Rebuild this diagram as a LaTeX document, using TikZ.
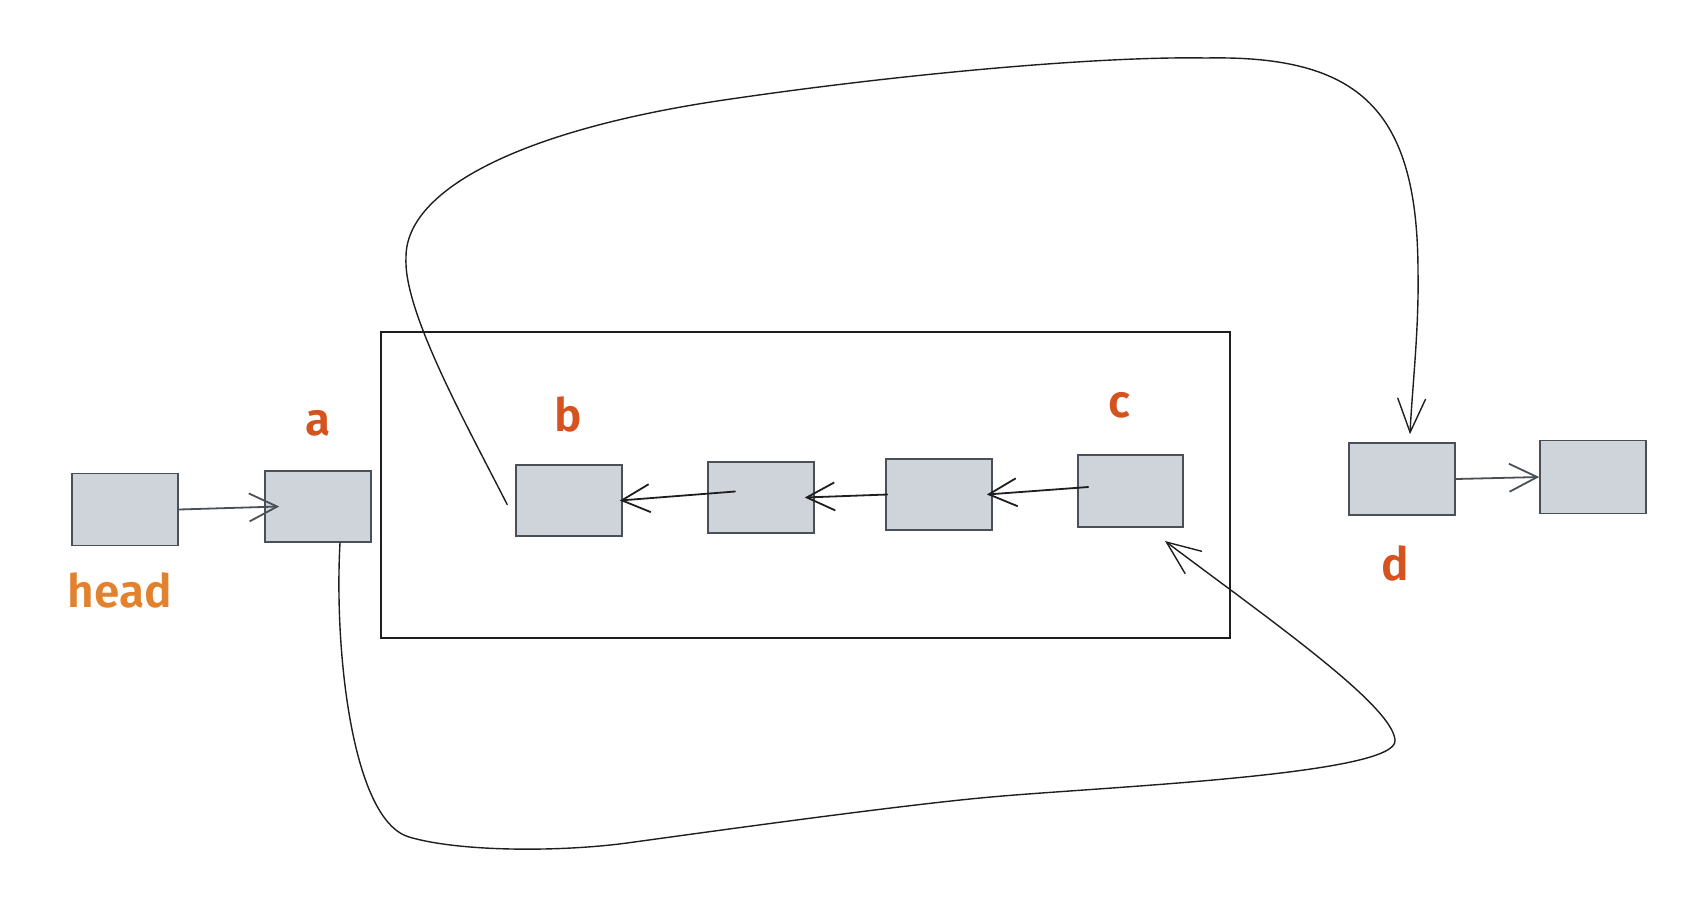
\documentclass[tikz,border=0pt]{standalone}
\usepackage{fontspec}
\setmainfont{Fira Sans}[BoldFont={Fira Sans SemiBold}]
\usetikzlibrary{arrows.meta}
\definecolor{boxfill}{HTML}{CED4DA}
\definecolor{boxline}{HTML}{495057}
\definecolor{ink}{HTML}{1E1E1E}
\definecolor{lbl}{HTML}{D4531F}
\definecolor{headc}{HTML}{E2822E}
\begin{document}
\begin{tikzpicture}[x=1pt,y=-1pt,
  cell/.style={draw=boxline, fill=boxfill, line width=1.6pt, inner sep=0pt},
  lab/.style={text=lbl, font=\fontsize{46}{46}\selectfont\bfseries, inner sep=0pt},
  link/.style={draw=ink, line width=1.8pt, line cap=round, line join=round, -{Straight Barb[length=28pt,width=28pt]}},
  glink/.style={link, draw=boxline},
  bigloop/.style={draw=ink, line width=1.4pt, line cap=round, line join=round, -{Straight Barb[length=34pt,width=28pt]}},
  boxframe/.style={draw=ink, line width=1.5pt, inner sep=0pt}
]
\useasboundingbox (0,0) rectangle (1696,898);

\node[boxframe, minimum width=849pt, minimum height=306pt] (fr) at (805.5,485) {};

\node[cell, minimum width=106pt, minimum height=72pt] (head) at (125,509.5) {};
\node[cell, minimum width=106pt, minimum height=71pt] (a) at (318,506.5) {};
\node[cell, minimum width=106pt, minimum height=71pt] (b) at (569,500.5) {};
\node[cell, minimum width=106pt, minimum height=71pt] (n2) at (761,497.5) {};
\node[cell, minimum width=106pt, minimum height=71pt] (n3) at (939,494.5) {};
\node[cell, minimum width=105pt, minimum height=72pt] (c) at (1130.5,491) {};
\node[cell, minimum width=106pt, minimum height=72pt] (d) at (1402,479) {};
\node[cell, minimum width=106pt, minimum height=73pt] (e) at (1593,477) {};

\node[lab, text=headc] (headlbl) at (120,590) {head};
\node[lab] (albl) at (318,423) {a};
\node[lab] (blbl) at (568,414) {b};
\node[lab] (clbl) at (1119,405) {c};
\node[lab] (dlbl) at (1395,563) {d};

\coordinate (cin) at (1165,541);

\draw[glink] (head.east) -- ([xshift=15pt]a.west);
\draw[link] ([shift={(-26pt,6pt)}]n2.center) -- ([xshift=-3pt]b.east);
\draw[link] ([xshift=2pt]n3.west) -- ([xshift=-10pt]n2.east);
\draw[link] ([shift={(11pt,4pt)}]c.west) -- ([xshift=-6pt]n3.east);
\draw[glink] (d.east) -- (e.west);

\draw[bigloop] ([shift={(-8pt,-4pt)}]b.west) .. controls (464,420) and (403,310) .. (406,257)
  .. controls (406,190) and (520,130) .. (724,100)
  .. controls (900,74) and (1100,56) .. (1206,58)
  .. controls (1360,55) and (1418,110) .. (1418,273)
  .. controls (1419,330) and (1412,390) .. ([shift={(8pt,8pt)}]d.north);

\draw[bigloop] ([xshift=22pt]a.south) .. controls (334,650) and (352,820) .. (409,837)
  .. controls (460,852) and (560,852) .. (627,843)
  .. controls (700,833) and (900,805) .. (991,797)
  .. controls (1100,787) and (1400,775) .. (1395,740)
  .. controls (1392,705) and (1270,620) .. (cin);
\end{tikzpicture}
\end{document}
